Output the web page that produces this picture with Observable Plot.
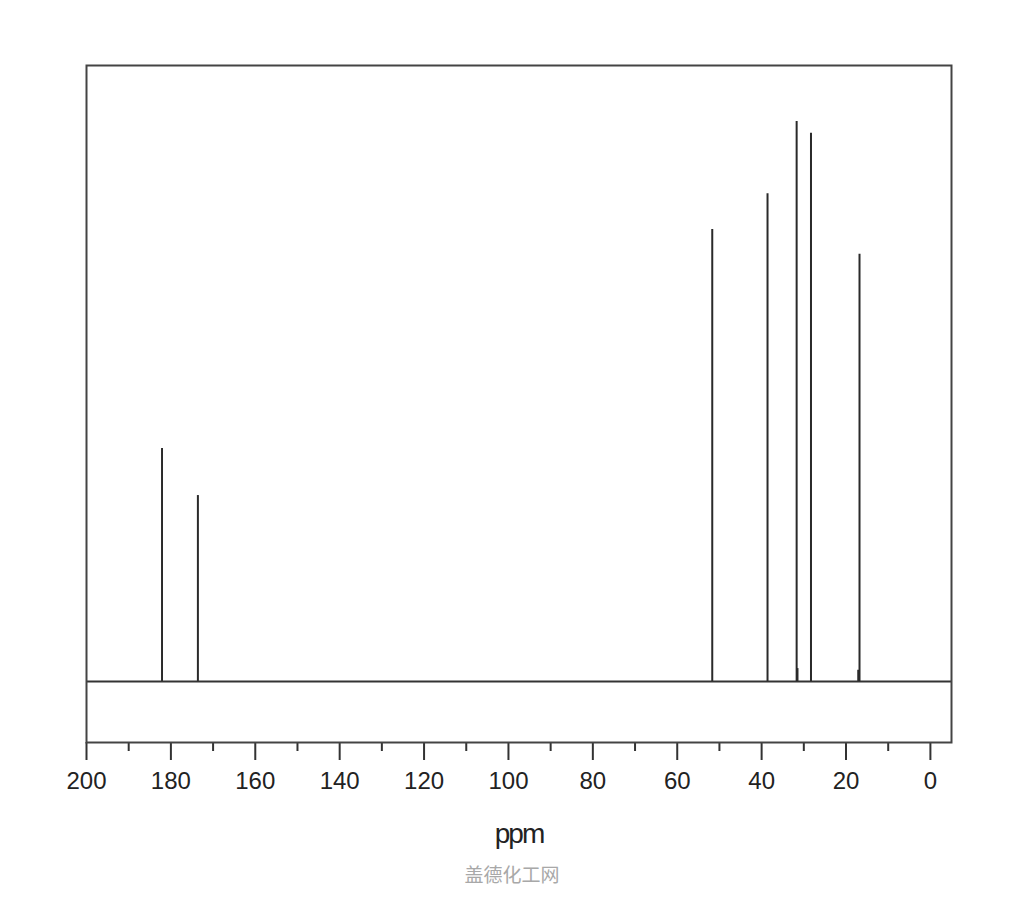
<!DOCTYPE html>
<html>
<head>
<meta charset="utf-8">
<script src="https://cdn.jsdelivr.net/npm/d3@7"></script>
<script src="https://cdn.jsdelivr.net/npm/@observablehq/plot@0.6"></script>
<style>
  html, body { margin: 0; padding: 0; background: #fff; }
  #caption { width: 1024px; text-align: center; font-family: "Noto Sans CJK SC", sans-serif; font-size: 19px; line-height: 38px; color: #a8a8a8; }
</style>
</head>
<body>
<div id="chart"></div>
<div id="caption">盖德化工网</div>
<script>
// Chemical shifts (ppm) and relative intensities
const shifts = [182.1, 173.6, 51.7, 38.6, 31.7, 31.5, 28.3, 16.8, 17.1];
const intensities = [41.6, 33.2, 80.7, 87.1, 100, 2.3, 97.9, 76.3, 2.0];
const majorTicks = [200, 180, 160, 140, 120, 100, 80, 60, 40, 20, 0];
const minorTicks = [190, 170, 150, 130, 110, 90, 70, 50, 30, 10];

const peaks = shifts.map((s, i) => ({ppm: s, intensity: intensities[i]}));

const chart = Plot.plot({
  width: 1024,
  height: 855,
  marginLeft: 86,
  marginRight: 73,
  marginTop: 65,
  marginBottom: 113,
  style: { fontFamily: "'Liberation Sans', Arial, sans-serif", background: "#fff" },
  x: { domain: [200, -5] },
  y: { domain: [-10.9, 110], axis: null },
  marks: [
    Plot.axisX({ ticks: minorTicks, tickSize: 9, tickFormat: () => "", label: null, stroke: "#333", strokeWidth: 2 }),
    Plot.axisX({ ticks: majorTicks, tickSize: 18, tickPadding: 11, tickFormat: d => String(d),
      fontSize: 24, fill: "#222", stroke: "#333", strokeWidth: 2,
      label: "ppm", labelArrow: "none", labelAnchor: "center", labelOffset: 100 }),
    Plot.ruleY([0], { stroke: "#333", strokeWidth: 2 }),
    Plot.ruleX(peaks, { x: "ppm", y1: 0, y2: "intensity", stroke: "#2a2a2a", strokeWidth: 2 }),
    Plot.frame({ stroke: "#444", strokeWidth: 2 })
  ]
});
document.getElementById("chart").appendChild(chart);
// Style the axis label "ppm"
d3.select(chart).selectAll("text").filter(function() { return /ppm/.test(this.textContent); })
  .text("ppm")
  .attr("font-size", 28).attr("letter-spacing", -2).attr("fill", "#222");
</script>
</body>
</html>
